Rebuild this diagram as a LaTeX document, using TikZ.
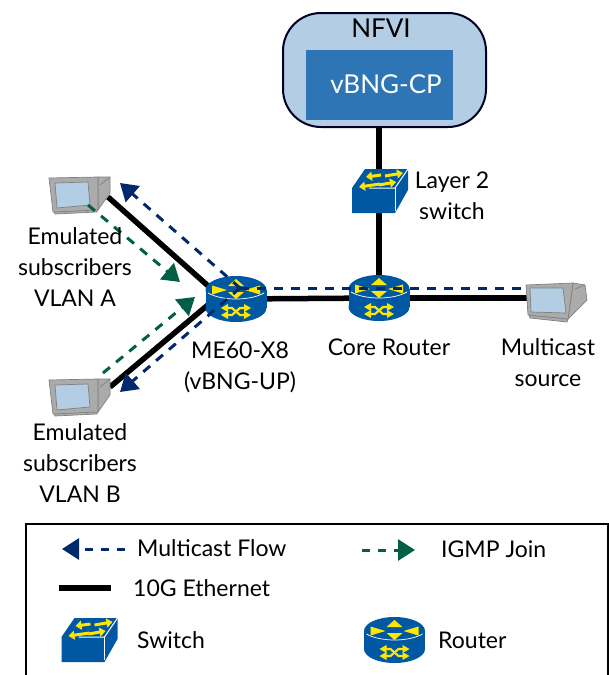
\documentclass[tikz,border=0pt]{standalone}
\usepackage{fontspec}
\setmainfont{Lato}
\usetikzlibrary{arrows.meta}
\definecolor{netblue}{HTML}{0058A3}
\definecolor{netyel}{HTML}{FFE600}
\definecolor{navy}{HTML}{00296B}
\definecolor{igmp}{HTML}{005F46}
\definecolor{pale}{HTML}{B2CDE4}
\definecolor{cpblue}{HTML}{2E75B6}
\definecolor{monout}{HTML}{808080}
\definecolor{monfill}{HTML}{ABABAB}
\tikzset{
  x=1pt,y=-1pt,
  label text/.style={inner sep=0pt,align=center,text=black,font=\fontsize{23}{31}\selectfont},
  big text/.style={inner sep=0pt,align=center,font=\fontsize{26}{31}\selectfont},
  anchor box/.style={inner sep=0pt,minimum width=#1},
  link/.style={line width=5.5pt,black},
  mflow/.style={line width=3pt,navy,dash pattern=on 9pt off 8pt,-{Triangle[length=17pt,width=21pt]}},
  jflow/.style={line width=3pt,igmp,dash pattern=on 9pt off 8pt,-{Triangle[length=17pt,width=21pt]}},
  router/.pic={
    \fill[netblue] (0,-9) ellipse [x radius=30.5,y radius=14];
    \fill[netblue] (-30.5,-9) rectangle (30.5,9);
    \fill[netblue] (0,9) ellipse [x radius=30.5,y radius=14];
    \draw[white,line width=.7pt] (-28,-6) .. controls (-14,2) and (14,2) .. (28,-6);
    \fill[netyel] (0,-20) -- (-8,-13) -- (8,-13) -- cycle;
    \fill[netyel] (0,0) -- (-8,-7) -- (8,-7) -- cycle;
    \fill[netyel] (-9,-9) -- (-24,-13.5) -- (-24,-4.5) -- cycle;
    \fill[netyel] (9,-9) -- (24,-13.5) -- (24,-4.5) -- cycle;
    \draw[netyel,line width=2.2pt] (-9,9) -- (-4,9) -- (4,16) -- (9,16);
    \draw[netyel,line width=2.2pt] (-9,16) -- (-4,16) -- (4,9) -- (9,9);
    \fill[netyel] (-15,9) -- (-8,5) -- (-8,13) -- cycle;
    \fill[netyel] (-15,16) -- (-8,12) -- (-8,20) -- cycle;
    \fill[netyel] (15,9) -- (8,5) -- (8,13) -- cycle;
    \fill[netyel] (15,16) -- (8,12) -- (8,20) -- cycle;
  },
  switchicon/.pic={
    \fill[netblue] (-28,-3) -- (-15,-22) -- (28,-22) -- (28,-1) -- (15,22) -- (-28,22) -- cycle;
    \draw[white,line width=1pt] (-11,-3) -- (15,-3) -- (28,-22);
    \draw[white,line width=1pt] (15,-3) -- (15,20);
    \begin{scope}[netyel,line width=3pt,-{Triangle[length=6pt,width=9pt]}]
      \draw (1,-16) -- (-14,-14);
      \draw (5,-15) -- (23,-18);
      \draw (0,-7) -- (-21,-4);
      \draw (-1,-6) -- (16,-9);
    \end{scope}
  },
  monitorleft/.pic={
    \filldraw[fill=monfill,draw=monout,line width=.7pt] (19,-18) -- (31,-18) -- (31,-2) -- (19,15) -- cycle;
    \draw[monout,line width=.7pt] (21,-10) -- (31,-18);
    \filldraw[fill=monfill,draw=monout,line width=.7pt] (-26,14) -- (19,13) -- (18,17) -- (-24,19) -- cycle;
    \filldraw[fill=monfill,draw=monout,line width=.7pt] (-30,-17) -- (19,-18) -- (19,15) -- (-26,17) -- cycle;
    \filldraw[fill=pale,draw=monout,line width=.7pt] (-24,-12) -- (9,-13) -- (11,10) -- (-22,13) -- cycle;
  },
  monitorright/.pic={
    \filldraw[fill=monfill,draw=monout,line width=.7pt] (17,-19) -- (29,-17) -- (31,-2) -- (12,17) -- cycle;
    \draw[monout,line width=.7pt] (19,-13) -- (29,-17);
    \filldraw[fill=monfill,draw=monout,line width=.7pt] (-27,13) -- (12,17) -- (11,20) -- (-26,16) -- cycle;
    \filldraw[fill=monfill,draw=monout,line width=.7pt] (-30,-17) -- (17,-19) -- (12,17) -- (-28,13) -- cycle;
    \filldraw[fill=pale,draw=monout,line width=.7pt] (-26,-14) -- (7,-14) -- (10,11) -- (-25,10) -- cycle;
  }
}
\begin{document}
\begin{tikzpicture}
\useasboundingbox (0,0) rectangle (609,675);
% cloud
\node[draw=black!85!blue,line width=2pt,fill=pale,rounded corners=38pt,minimum width=203pt,minimum height=114pt,inner sep=0pt] (nfvi) at (384.5,70) {};
\node[fill=cpblue,minimum width=147pt,minimum height=70pt,inner sep=0pt] (cp) at (379.5,85) {};
\node[big text] (nfvilabel) at (381,28) {NFVI};
\node[big text,text=white] (cplabel) at (386,84) {vBNG-CP};
% anchors
\node[anchor box=61pt] (me) at (236,299) {};
\node[anchor box=61pt] (core) at (379,298) {};
\node[anchor box=56pt] (l2) at (380,191) {};
\node[anchor box=60pt] (suba) at (79,195) {};
\node[anchor box=60pt] (subb) at (79,397) {};
\node[anchor box=60pt] (src) at (556,302) {};
\coordinate (mhub) at (240,288);
\coordinate (ahead) at (120,183);
\coordinate (bhead) at (120,392);
\coordinate (srcflow) at (527,288);
\coordinate (ajoin) at (88,205);
\coordinate (ajoinhead) at (180,282);
\coordinate (bjoin) at (103,373);
\coordinate (bjoinhead) at (195,297);
\coordinate (afoot) at (108,197);
\coordinate (bfoot) at (110,387);
\coordinate (srcfoot) at (527,298);
\coordinate (ameet) at (215,292);
\coordinate (bmeet) at (215,299);
% links
\draw[link] (afoot) -- (ameet);
\draw[link] (bfoot) -- (bmeet);
\draw[link] (me.center) -- (core.center);
\draw[link] (core.center) -- (srcfoot);
\draw[link] (nfvi.south -| core.center) -- (core.center);
% icons
\pic at (me) {router};
\pic at (core) {router};
\pic at (l2) {switchicon};
\pic at (suba) {monitorleft};
\pic at (subb) {monitorleft};
\pic at (src) {monitorright};
% flows
\draw[mflow] (mhub) -- (ahead);
\draw[mflow] (mhub) -- (bhead);
\draw[line width=3pt,navy,dash pattern=on 9pt off 8pt] (mhub) -- (srcflow);
\draw[jflow] (ajoin) -- (ajoinhead);
\draw[jflow] (bjoin) -- (bjoinhead);
% labels
\node[label text] (labl2) at (452,196) {Layer 2\\switch};
\node[label text] (laba) at (75,267) {Emulated\\subscribers\\VLAN A};
\node[label text] (labb) at (80,463) {Emulated\\subscribers\\VLAN B};
\node[label text] (labme) at (240,367) {ME60-X8\\(vBNG-UP)};
\node[label text] (labcore) at (389,347) {Core Router};
\node[label text] (labsrc) at (548,363) {Multicast\\source};
% legend
\draw[line width=2.5pt,black] (26,676) -- (26,524) -- (608,524) -- (608,676);
\coordinate (lma) at (125,549);
\coordinate (lmb) at (62,549);
\coordinate (lja) at (362,550);
\coordinate (ljb) at (415,550);
\coordinate (lea) at (59,588);
\coordinate (leb) at (111,588);
\draw[line width=3pt,navy,dash pattern=on 8pt off 8pt,-{Triangle[length=17pt,width=21pt]}] (lma) -- (lmb);
\draw[line width=3pt,igmp,dash pattern=on 8pt off 8pt,-{Triangle[length=17pt,width=21pt]}] (lja) -- (ljb);
\draw[link] (lea) -- (leb);
\node[anchor box=56pt] (lsw) at (89.5,640) {};
\node[anchor box=61pt] (lrt) at (394.5,640) {};
\pic at (lsw) {switchicon};
\pic at (lrt) {router};
\node[label text,anchor=west] (t1) at (137,548) {Multicast Flow};
\node[label text,anchor=west] (t2) at (441,549) {IGMP Join};
\node[label text,anchor=west] (t3) at (133,588) {10G Ethernet};
\node[label text,anchor=west] (t4) at (137,640) {Switch};
\node[label text,anchor=west] (t5) at (438,640) {Router};
\end{tikzpicture}
\end{document}
